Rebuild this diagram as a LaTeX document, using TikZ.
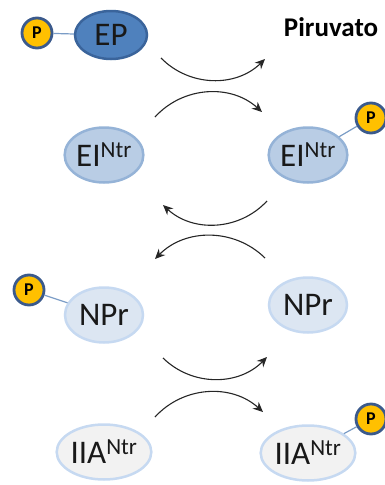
\documentclass[tikz,border=0pt]{standalone}
\usepackage{fontspec}
\setmainfont{Carlito}
\definecolor{epfill}  {HTML}{4F81BD}
\definecolor{epline}  {HTML}{3A649B}
\definecolor{eifill}  {HTML}{B9CDE5}
\definecolor{eiline}  {HTML}{95B3D7}
\definecolor{npfill}  {HTML}{DCE6F2}
\definecolor{npline}  {HTML}{C6D9F1}
\definecolor{iiafill} {HTML}{F2F2F2}
\definecolor{pfill}   {HTML}{FFC000}
\definecolor{pline}   {HTML}{3B5A8C}
\definecolor{linkc}   {HTML}{7A9CC6}
\usetikzlibrary{shapes.geometric,arrows.meta}
\tikzset{
  enz/.style={ellipse,line width=2.5pt,minimum width=78pt,minimum height=55pt,
              inner sep=0pt,font=\fontsize{33}{33}\selectfont,text=black!90},
  phos/.style={circle,draw=pline,line width=2.8pt,fill=pfill,minimum size=30pt,
               inner sep=0pt,font=\bfseries\fontsize{18}{18}\selectfont},
  link/.style={draw=linkc,line width=1.2pt},
  flow/.style={-{Stealth[length=10pt,width=9pt]},line width=1.1pt,draw=black!85}
}
\begin{document}
\begin{tikzpicture}[x=1pt,y=-1pt]
  \useasboundingbox (0,0) rectangle (385,485);

  % enzymes
  \node[enz,fill=epfill,draw=epline,minimum width=72pt,minimum height=48pt] (EP) at (111,35) {EP};
  \node[enz,fill=eifill,draw=eiline] (EIa) at (104,155) {EI\textsuperscript{Ntr}};
  \node[enz,fill=eifill,draw=eiline] (EIb) at (308,155) {EI\textsuperscript{Ntr}};
  \node[enz,fill=npfill,draw=npline] (NPa) at (104,315) {NPr};
  \node[enz,fill=npfill,draw=npline] (NPb) at (308,305) {NPr};
  \node[enz,fill=iiafill,draw=npline] (IIAa) at (104,452) {IIA\textsuperscript{Ntr}};
  \node[enz,fill=iiafill,draw=npline] (IIAb) at (308,453) {IIA\textsuperscript{Ntr}};
  \node[font=\bfseries\fontsize{27}{27}\selectfont] (pyr) at (331,27) {Piruvato};

  % phosphates
  \node[phos] (pEP) at (37,33) {P};
  \node[phos] (pEI) at (371,118) {P};
  \node[phos] (pNP) at (29,290) {P};
  \node[phos] (pIIA) at (371,419) {P};
  \draw[link] (pEP) -- (EP);
  \draw[link] (pEI) -- (EIb);
  \draw[link] (pNP) -- (NPa);
  \draw[link] (pIIA) -- (IIAb);

  % arrow ends
  \coordinate (a1s) at (161,58);  \coordinate (a1e) at (265,59);
  \coordinate (a2s) at (155,117); \coordinate (a2e) at (262,112);
  \coordinate (a3s) at (267,201); \coordinate (a3e) at (163,205);
  \coordinate (a4s) at (265,258); \coordinate (a4e) at (155,259);
  \coordinate (a5s) at (163,358); \coordinate (a5e) at (267,357);
  \coordinate (a6s) at (155,417); \coordinate (a6e) at (263,412);

  \draw[flow] (a1s) to[bend right=45] (a1e);
  \draw[flow] (a2s) to[bend left=45] (a2e);
  \draw[flow] (a3s) to[bend left=45] (a3e);
  \draw[flow] (a4s) to[bend right=45] (a4e);
  \draw[flow] (a5s) to[bend right=45] (a5e);
  \draw[flow] (a6s) to[bend left=45] (a6e);
\end{tikzpicture}
\end{document}
